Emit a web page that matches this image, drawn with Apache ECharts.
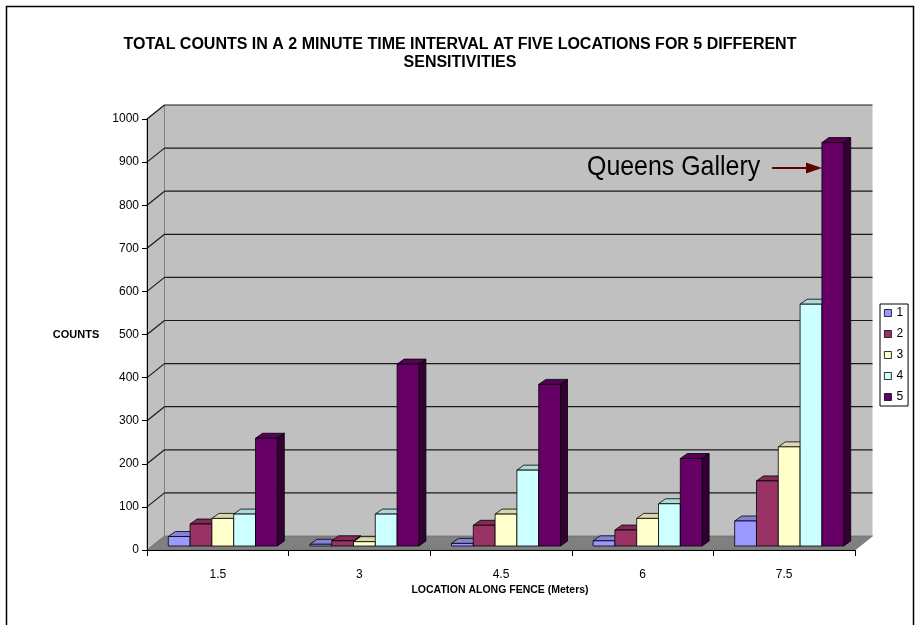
<!DOCTYPE html>
<html><head><meta charset="utf-8">
<script src="https://cdn.jsdelivr.net/npm/echarts@6.0.0/dist/echarts.min.js"></script>
<style>html,body{margin:0;padding:0;background:#fff}#c{width:920px;height:625px}</style>
</head><body><div id="c"></div>
<script>
// ---- data ----
const categories = ['1.5', '3', '4.5', '6', '7.5'];
const seriesNames = ['1', '2', '3', '4', '5'];
const sens1 = [22, 4, 6, 12, 58];
const sens2 = [51, 12, 48, 37, 151];
const sens3 = [64, 10, 74, 64, 230];
const sens4 = [74, 74, 176, 98, 561];
const sens5 = [250, 422, 375, 203, 936];
const yTicks = [0, 100, 200, 300, 400, 500, 600, 700, 800, 900, 1000];
const titleText = 'TOTAL COUNTS IN A 2 MINUTE TIME INTERVAL AT FIVE LOCATIONS FOR 5 DIFFERENT\nSENSITIVITIES';
const yName = 'COUNTS';
const xName = 'LOCATION ALONG FENCE (Meters)';
const noteText = 'Queens Gallery';

// ---- styles ----
const colors = ['#9999FF', '#993366', '#FFFFCC', '#CCFFFF', '#660066'];
const WALL_DX = 17.5, WALL_DY = 14;
const BAR_SHIFT_X = 5, BAR_SHIFT_Y = 4;
const BAR_DX = 7, BAR_DY = 5;
const BAR_FRAC = 0.154;
const FONT = 'Liberation Sans, Arial, sans-serif';

function shade(hex, f) {
  const n = parseInt(hex.slice(1), 16);
  const r = Math.round(((n >> 16) & 255) * f), g = Math.round(((n >> 8) & 255) * f), b = Math.round((n & 255) * f);
  return 'rgb(' + r + ',' + g + ',' + b + ')';
}

function renderWalls(params, api) {
  const p00 = api.coord([0, 0]);
  const p50 = api.coord([5, 0]);
  const p01 = api.coord([0, 1000]);
  const dx = WALL_DX, dy = WALL_DY;
  const ch = [];
  ch.push({ type: 'polygon', shape: { points: [[p00[0], p00[1]], [p01[0], p01[1]], [p01[0] + dx, p01[1] - dy], [p00[0] + dx, p00[1] - dy]] },
    style: { fill: '#C0C0C0', stroke: '#909090', lineWidth: 1 } });
  ch.push({ type: 'rect', shape: { x: p01[0] + dx, y: p01[1] - dy, width: p50[0] - p00[0], height: p00[1] - p01[1] },
    style: { fill: '#C0C0C0' } });
  ch.push({ type: 'polygon', shape: { points: [[p00[0], p00[1]], [p50[0], p50[1]], [p50[0] + dx, p50[1] - dy], [p00[0] + dx, p00[1] - dy]] },
    style: { fill: '#808080', stroke: '#707070', lineWidth: 0.8 } });
  ch.push({ type: 'line', shape: { x1: p01[0] + dx, y1: p01[1] - dy, x2: p00[0] + dx, y2: p00[1] - dy }, style: { stroke: '#808080', lineWidth: 1 } });
  yTicks.forEach(function (t) {
    const q = api.coord([0, t]), r = api.coord([5, t]);
    if (t > 0) {
      ch.push({ type: 'line', shape: { x1: q[0] + dx, y1: q[1] - dy, x2: r[0] + dx, y2: r[1] - dy }, style: { stroke: '#1a1a1a', lineWidth: 1.2 } });
      ch.push({ type: 'line', shape: { x1: q[0], y1: q[1], x2: q[0] + dx, y2: q[1] - dy }, style: { stroke: '#1a1a1a', lineWidth: 1.2 } });
    }
  });
  return { type: 'group', children: ch };
}

function makeBarRender(k) {
  return function (params, api) {
    const i = api.value(0), v = api.value(1);
    const base = api.coord([i + 0.5, 0]);
    const top = api.coord([i + 0.5, v]);
    const catW = api.size([1, 0])[0];
    const bw = catW * BAR_FRAC, gw = bw * 5;
    const x0 = base[0] - gw / 2 + k * bw + BAR_SHIFT_X;
    const yb = base[1] - BAR_SHIFT_Y, yt = top[1] - BAR_SHIFT_Y;
    const c = colors[k];
    const st = { stroke: '#000', lineWidth: 0.8 };
    return { type: 'group', children: [
      { type: 'polygon', shape: { points: [[x0 + bw, yt], [x0 + bw + BAR_DX, yt - BAR_DY], [x0 + bw + BAR_DX, yb - BAR_DY], [x0 + bw, yb]] },
        style: Object.assign({ fill: shade(c, 0.5) }, st) },
      { type: 'polygon', shape: { points: [[x0, yt], [x0 + bw, yt], [x0 + bw + BAR_DX, yt - BAR_DY], [x0 + BAR_DX, yt - BAR_DY]] },
        style: Object.assign({ fill: shade(c, 0.85) }, st) },
      { type: 'rect', shape: { x: x0, y: yt, width: bw, height: yb - yt }, style: Object.assign({ fill: c }, st) }
    ] };
  };
}

const allSens = [sens1, sens2, sens3, sens4, sens5];
const series = [{
  type: 'custom', name: 'walls', xAxisIndex: 1, yAxisIndex: 0, silent: true, z: 1,
  renderItem: renderWalls, data: [[0, 0]]
}];
allSens.forEach(function (arr, k) {
  series.push({
    type: 'custom', name: seriesNames[k], xAxisIndex: 1, yAxisIndex: 0, z: 2 + k,
    itemStyle: { color: colors[k] },
    renderItem: makeBarRender(k),
    data: arr.map(function (v, i) { return [i, v]; })
  });
});

const chart = echarts.init(document.getElementById('c'), null, { renderer: 'canvas' });
chart.setOption({
  animation: false,
  backgroundColor: '#fff',
  title: {
    text: titleText, left: 'center', top: 36, padding: [0, 0, 0, 8],
    textStyle: { fontFamily: FONT, fontSize: 16, fontWeight: 'bold', color: '#000', lineHeight: 18 }
  },
  legend: {
    data: seriesNames, orient: 'vertical', left: 880, top: 304,
    padding: [3, 5, 3, 4], itemWidth: 7, itemHeight: 7, itemGap: 9, itemTextGap: 3,
    icon: 'rect', borderColor: '#000', borderWidth: 1, backgroundColor: '#fff',
    itemStyle: { borderColor: '#000', borderWidth: 0.8 },
    textStyle: { fontFamily: FONT, fontSize: 12, color: '#000' }
  },
  grid: { left: 147, top: 119, width: 708, height: 431, outerBoundsMode: 'none', containLabel: false },
  xAxis: [{
    type: 'category', data: categories, boundaryGap: true, z: 10,
    axisLine: { show: true, lineStyle: { color: '#000', width: 1 } },
    axisTick: { show: true, length: 6, lineStyle: { color: '#000' } },
    axisLabel: { margin: 19, fontFamily: FONT, fontSize: 12, color: '#000' },
    splitLine: { show: false }
  }, {
    type: 'value', min: 0, max: 5, show: false
  }],
  yAxis: [{
    type: 'value', min: 0, max: 1000, interval: 100, z: 10,
    axisLine: { show: true, lineStyle: { color: '#000', width: 1 } },
    axisTick: { show: true, length: 5, lineStyle: { color: '#000' } },
    axisLabel: { margin: 8, fontFamily: FONT, fontSize: 12, color: '#000', formatter: function (v) { return String(v); } },
    splitLine: { show: false }
  }],
  graphic: [
    { type: 'rect', shape: { x: 6.5, y: 6.5, width: 907, height: 640 }, style: { fill: 'none', stroke: '#000', lineWidth: 1.5 }, z: 100 },
    { type: 'text', x: 76, y: 335, style: { text: yName, fontFamily: FONT, fontSize: 11, fontWeight: 'bold', fill: '#000', align: 'center', verticalAlign: 'middle' } },
    { type: 'text', x: 500, y: 590, style: { text: xName, fontFamily: FONT, fontSize: 10.5, fontWeight: 'bold', fill: '#000', align: 'center', verticalAlign: 'middle' } },
    { type: 'text', x: 587, y: 167, scaleX: 0.89, z: 50, style: { text: noteText, fontFamily: FONT, fontSize: 28, fill: '#000', align: 'left', verticalAlign: 'middle' } },
    { type: 'line', z: 50, shape: { x1: 772, y1: 168, x2: 812, y2: 168 }, style: { stroke: '#5C0000', lineWidth: 2 } },
    { type: 'polygon', z: 50, shape: { points: [[822, 168], [806, 162.5], [806, 173.5]] }, style: { fill: '#5C0000' } }
  ],
  series: series
});
</script>
</body></html>
